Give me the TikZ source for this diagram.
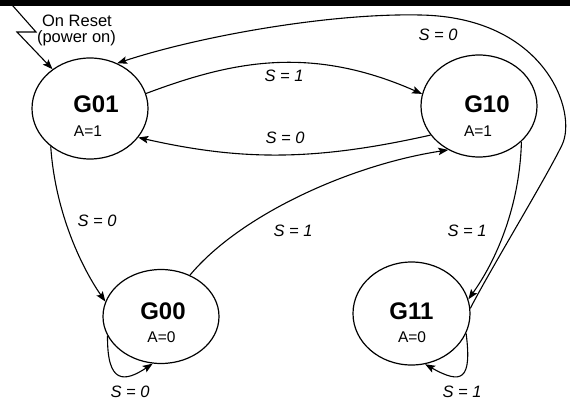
\documentclass[tikz,border=0pt]{standalone}
\usepackage{fontspec}
\setmainfont{Liberation Sans}
\usetikzlibrary{shapes.geometric,arrows.meta}
\begin{document}
\begin{tikzpicture}[x=1pt,y=-1pt,
  state/.style={draw, ellipse, line width=1.2pt, minimum width=116pt, inner sep=0pt},
  gname/.style={font=\fontsize{24}{24}\selectfont\bfseries, anchor=base, inner sep=0pt},
  aval/.style={font=\fontsize{15.5}{15.5}\selectfont, anchor=base, inner sep=0pt},
  cond/.style={font=\fontsize{16.5}{16.5}\selectfont\itshape, inner sep=0pt},
  note/.style={font=\fontsize{16.5}{16.5}\selectfont, anchor=base, inner sep=0pt},
  trans/.style={line width=1.1pt, -{Stealth[length=10pt,width=7.5pt,inset=2pt]}},
]
\useasboundingbox (0,0) rectangle (570,401);
\fill[black] (0,0) rectangle (570,6);

% states
\node[state, minimum height=101pt] (G01) at (90,108.5) {};
\node[state, minimum height=102pt] (G10) at (479,106) {};
\node[state, minimum height=94pt]  (G00) at (161,316.5) {};
\node[state, minimum height=103pt, minimum width=117pt] (G11) at (411.5,313.5) {};

\node[gname] (G01n) at (96,113) {G01};
\node[aval]  (G01a) at (88,136) {A=1};
\node[gname] (G10n) at (487,113) {G10};
\node[aval]  (G10a) at (478,136) {A=1};
\node[gname] (G00n) at (163,319) {G00};
\node[aval]  (G00a) at (161.5,342) {A=0};
\node[gname] (G11n) at (411.5,319) {G11};
\node[aval]  (G11a) at (412,342) {A=0};

% reset entry
\coordinate (rs0) at (7.7,0);
\coordinate (rs1) at (36,32);
\coordinate (rs2) at (17,32);
\draw[trans] (rs0) -- (rs1) -- (rs2) -- (G01);
\node[note] (reset1) at (77,27) {On Reset};
\node[note] (reset2) at (76.5,43) {(power on)};

% transitions
\draw[trans] (G01.15) .. controls (230,62) and (309,44) .. (G10.168);
\draw[trans] (G10.211) .. controls (315,161) and (242,161) .. (G01.329);
\coordinate (wrapR) at (562,145);
\coordinate (wrapT) at (420,15);
\draw[trans] (G11.5) .. controls (490,270) and (545,180) .. (wrapR)
  .. controls (578,112) and (545,17) .. (wrapT)
  .. controls (330,13) and (200,36) .. (G01.59);
\draw[trans] (G10.320) .. controls (520,200) and (500,255) .. (G11.14);
\draw[trans] (G01.224) .. controls (55,210) and (80,265) .. (G00.165);
\draw[trans] (G00.55) .. controls (240,215) and (350,165) .. (G10.235);
\draw[trans] (G00.200) .. controls (107,385) and (125,382) .. (G00.260);
\draw[trans] (G11.340) .. controls (472,380) and (462,385) .. (G11.285);

% transition conditions
\node[cond] (c1) at (284,76) {S = 1};
\node[cond] (c2) at (285,137.5) {S = 0};
\node[cond] (c3) at (438,35) {S = 0};
\node[cond] (c4) at (467,231) {S = 1};
\node[cond] (c5) at (97,221) {S = 0};
\node[cond] (c6) at (293,231) {S = 1};
\node[cond] (c7) at (130,392) {S = 0};
\node[cond] (c8) at (462,392) {S = 1};
\end{tikzpicture}
\end{document}
